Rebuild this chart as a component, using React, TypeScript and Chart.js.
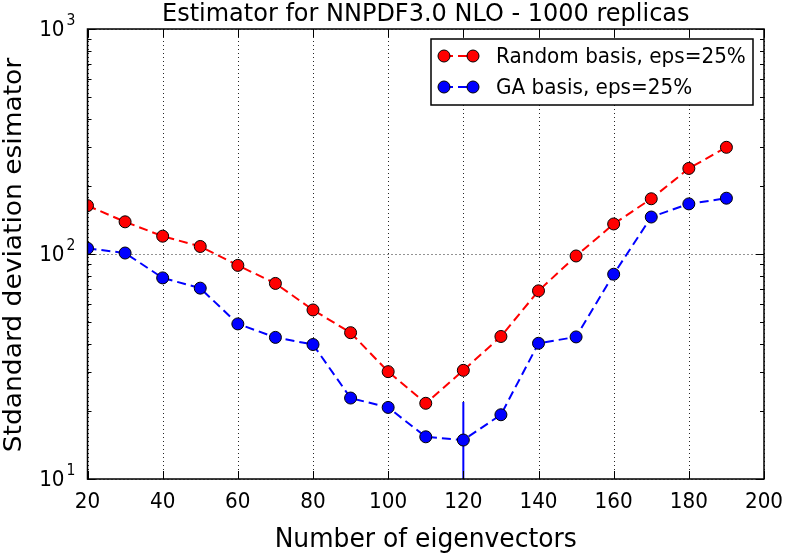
import React, { useEffect, useRef } from 'react';
import { Chart, registerables } from 'chart.js';

Chart.register(...registerables);

// ---- data ----
const eigenvectors = [20, 30, 40, 50, 60, 70, 80, 90, 100, 110, 120, 130, 140, 150, 160, 170, 180, 190];
const randomBasis = [164, 139, 120, 108, 89, 74, 56.4, 44.7, 30, 21.7, 30.4, 43, 68.6, 98, 136, 176, 240, 298];
const gaBasis = [106, 101, 78.3, 70.5, 48.9, 42.6, 39.6, 22.9, 20.8, 15.4, 14.9, 19.3, 40.1, 42.8, 81.3, 146, 167, 177];
const gaError = [0, 0, 0, 0, 0, 0, 0, 0, 0, 0, 7.1, 0, 0, 0, 0, 0, 0, 0];
const seriesLabels = ['Random basis, eps=25%', 'GA basis, eps=25%'];
const xTicks = [20, 40, 60, 80, 100, 120, 140, 160, 180, 200];
const yDecades = [10, 100, 1000];
const yExponents = ['1', '2', '3'];
const titleText = 'Estimator for NNPDF3.0 NLO - 1000 replicas';
const xTitle = 'Number of eigenvectors';
const yTitle = 'Stdandard deviation esimator';

const FONT = '"DejaVu Sans", sans-serif';
const RED = '#ff0000';
const BLUE = '#0000ff';
const SY = 1.08; // slight vertical stretch of the reference's text

function stretchedText(ctx: CanvasRenderingContext2D, text: string, x: number, y: number, sy: number) {
  ctx.save();
  ctx.translate(x, y);
  ctx.scale(1, sy);
  ctx.fillText(text, 0, 0);
  ctx.restore();
}

const decorPlugin = {
  id: 'decor',
  beforeDatasetsDraw(chart: any) {
    const { ctx, chartArea: ca, scales } = chart;
    const x = scales.x;
    const y = scales.y;
    ctx.save();
    ctx.strokeStyle = 'rgba(0,0,0,0.85)';
    ctx.lineWidth = 1;
    ctx.setLineDash([1, 3]);
    xTicks.forEach((v) => {
      const px = Math.round(x.getPixelForValue(v)) + 0.5;
      ctx.beginPath();
      ctx.moveTo(px, ca.top);
      ctx.lineTo(px, ca.bottom);
      ctx.stroke();
    });
    yDecades.forEach((v) => {
      const py = Math.round(y.getPixelForValue(v)) + 0.5;
      ctx.beginPath();
      ctx.moveTo(ca.left, py);
      ctx.lineTo(ca.right, py);
      ctx.stroke();
    });
    ctx.setLineDash([]);
    ctx.beginPath();
    ctx.rect(ca.left, ca.top, ca.right - ca.left, ca.bottom - ca.top);
    ctx.clip();
    ctx.strokeStyle = BLUE;
    ctx.lineWidth = 2;
    gaError.forEach((e, i) => {
      if (e <= 0) return;
      const px = x.getPixelForValue(eigenvectors[i]);
      const top = y.getPixelForValue(gaBasis[i] + e);
      const low = gaBasis[i] - e;
      const bot = low > 0 ? y.getPixelForValue(low) : ca.bottom + 5;
      ctx.beginPath();
      ctx.moveTo(px, top);
      ctx.lineTo(px, Math.min(bot, ca.bottom + 5));
      ctx.stroke();
    });
    ctx.restore();
  },
  afterDatasetsDraw(chart: any) {
    const { ctx, chartArea: ca, scales } = chart;
    const x = scales.x;
    const y = scales.y;
    ctx.save();
    ctx.strokeStyle = '#000';
    ctx.lineWidth = 1.5;
    ctx.strokeRect(ca.left, ca.top, ca.right - ca.left, ca.bottom - ca.top);
    ctx.lineWidth = 1;
    xTicks.forEach((v) => {
      const px = Math.round(x.getPixelForValue(v)) + 0.5;
      ctx.beginPath();
      ctx.moveTo(px, ca.bottom);
      ctx.lineTo(px, ca.bottom - 8);
      ctx.moveTo(px, ca.top);
      ctx.lineTo(px, ca.top + 8);
      ctx.stroke();
    });
    for (let d = 0; d < yDecades.length; d++) {
      for (let m = 1; m <= 9; m++) {
        const v = yDecades[d] * m;
        if (v > yDecades[yDecades.length - 1]) break;
        const len = m === 1 ? 8 : 4;
        const py = Math.round(y.getPixelForValue(v)) + 0.5;
        ctx.beginPath();
        ctx.moveTo(ca.left, py);
        ctx.lineTo(ca.left + len, py);
        ctx.moveTo(ca.right, py);
        ctx.lineTo(ca.right - len, py);
        ctx.stroke();
      }
    }
    ctx.fillStyle = '#000';
    ctx.font = `20px ${FONT}`;
    ctx.textAlign = 'center';
    ctx.textBaseline = 'alphabetic';
    xTicks.forEach((v) => {
      stretchedText(ctx, String(v), x.getPixelForValue(v), 508, SY);
    });
    yDecades.forEach((v, i) => {
      const py = y.getPixelForValue(v);
      ctx.font = `14px ${FONT}`;
      ctx.textAlign = 'right';
      const expX = ca.left - 12;
      stretchedText(ctx, yExponents[i], expX, py - 4, SY);
      const ew = ctx.measureText(yExponents[i]).width;
      ctx.font = `20px ${FONT}`;
      stretchedText(ctx, '10', expX - ew - 2, py + 7, SY);
    });
    ctx.font = `25px ${FONT}`;
    ctx.textAlign = 'center';
    stretchedText(ctx, xTitle, (ca.left + ca.right) / 2, 547, 1.04);
    ctx.save();
    ctx.translate(21, (ca.top + ca.bottom) / 2 + 1);
    ctx.rotate(-Math.PI / 2);
    ctx.scale(1.06, 1);
    ctx.fillText(yTitle, 0, 0);
    ctx.restore();
    ctx.font = `24px ${FONT}`;
    stretchedText(ctx, titleText, (ca.left + ca.right) / 2, 21, 1.04);
    // legend
    const bx = 431, by = 39, bw = 322, bh = 66;
    ctx.fillStyle = '#fff';
    ctx.fillRect(bx, by, bw, bh);
    ctx.strokeStyle = '#000';
    ctx.lineWidth = 1.5;
    ctx.strokeRect(bx, by, bw, bh);
    const colors = [RED, BLUE];
    const rows = [56, 87];
    seriesLabels.forEach((lab, i) => {
      const ry = rows[i];
      ctx.strokeStyle = colors[i];
      ctx.lineWidth = 2;
      ctx.setLineDash([9, 5]);
      ctx.beginPath();
      ctx.moveTo(444, ry);
      ctx.lineTo(473, ry);
      ctx.stroke();
      ctx.setLineDash([]);
      [444, 473].forEach((mx) => {
        ctx.beginPath();
        ctx.arc(mx, ry, 6, 0, Math.PI * 2);
        ctx.fillStyle = colors[i];
        ctx.fill();
        ctx.strokeStyle = '#000';
        ctx.lineWidth = 1;
        ctx.stroke();
      });
      ctx.fillStyle = '#000';
      ctx.font = `20px ${FONT}`;
      ctx.textAlign = 'left';
      ctx.textBaseline = 'alphabetic';
      stretchedText(ctx, lab, 496, ry + 7, SY);
    });
    ctx.restore();
  },
};

export default function App() {
  const ref = useRef<HTMLCanvasElement | null>(null);
  useEffect(() => {
    if (!ref.current) return;
    const chart = new Chart(ref.current, {
      type: 'line',
      data: {
        datasets: [
          {
            label: seriesLabels[0],
            data: eigenvectors.map((xv, i) => ({ x: xv, y: randomBasis[i] })),
            borderColor: RED,
            borderWidth: 2,
            borderDash: [9, 5],
            pointRadius: 6,
            pointHoverRadius: 6,
            pointBackgroundColor: RED,
            pointBorderColor: '#000',
            pointBorderWidth: 1,
            tension: 0,
            fill: false,
            order: 1,
          },
          {
            label: seriesLabels[1],
            data: eigenvectors.map((xv, i) => ({ x: xv, y: gaBasis[i] })),
            borderColor: BLUE,
            borderWidth: 2,
            borderDash: [9, 5],
            pointRadius: 6,
            pointHoverRadius: 6,
            pointBackgroundColor: BLUE,
            pointBorderColor: '#000',
            pointBorderWidth: 1,
            tension: 0,
            fill: false,
            order: 0,
          },
        ],
      },
      options: {
        responsive: false,
        animation: false,
        events: [],
        layout: { padding: { left: 0, top: 29, right: 22, bottom: 0 } },
        plugins: { legend: { display: false }, title: { display: false }, tooltip: { enabled: false } },
        scales: {
          x: {
            type: 'linear',
            min: 20,
            max: 200,
            grid: { display: false },
            border: { display: false },
            ticks: { display: false },
            afterFit: (s: any) => { s.height = 74; },
          },
          y: {
            type: 'logarithmic',
            min: 10,
            max: 1000,
            grid: { display: false },
            border: { display: false },
            ticks: { display: false },
            afterFit: (s: any) => { s.width = 87.5; },
          },
        },
      },
      plugins: [decorPlugin],
    } as any);
    return () => chart.destroy();
  }, []);
  return (
    <div style={{ position: 'fixed', left: 0, top: 0, width: 786, height: 553, background: '#fff' }}>
      <canvas ref={ref} width={786} height={553} />
    </div>
  );
}
